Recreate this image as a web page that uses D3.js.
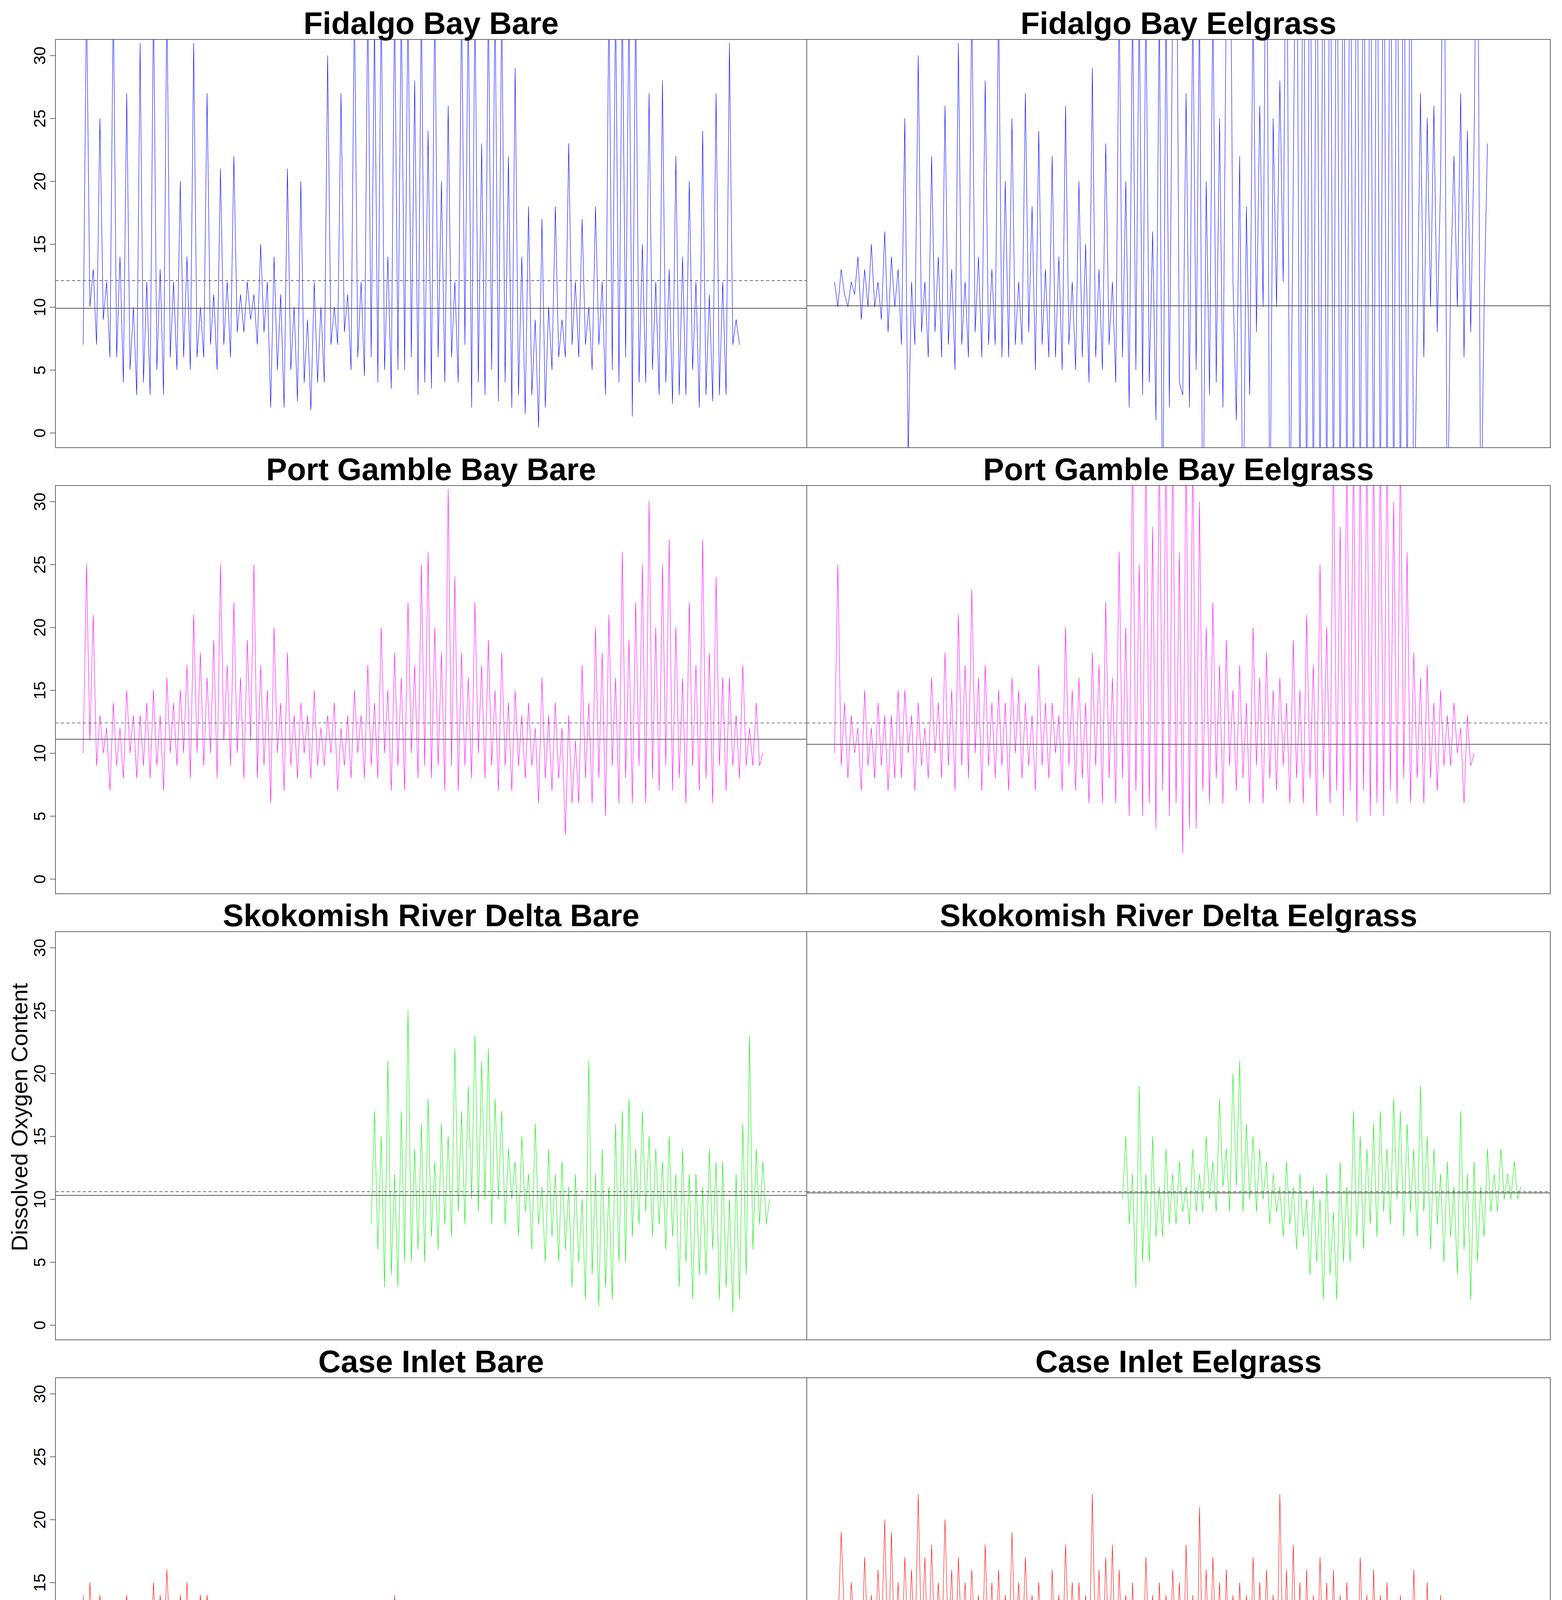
<!DOCTYPE html>
<html><head><meta charset="utf-8">
<script src="https://cdn.jsdelivr.net/npm/d3@7"></script>
<style>html,body{margin:0;padding:0;background:#fff}svg{display:block}</style></head>
<body><svg id="c" width="4000" height="6000"></svg>
<script>
// Dissolved oxygen, 4 samples per day (6 h apart), starting at startDay (days after 6/1/16)
const titles = ["Fidalgo Bay Bare","Fidalgo Bay Eelgrass","Port Gamble Bay Bare","Port Gamble Bay Eelgrass",
  "Skokomish River Delta Bare","Skokomish River Delta Eelgrass","Case Inlet Bare","Case Inlet Eelgrass",
  "Willapa Bay Bare","Willapa Bay Eelgrass"];
const colors = ["#0000ff","#0000ff","#ff00ff","#ff00ff","#00ee00","#00ee00","#ff0000","#ff0000","#a0a0a0","#a0a0a0"];
const startDays = [0,0,0,0,21.5,21.5,0,0,0,0];
const meanLines = [9.9,10.1,11.1,10.7,10.3,10.5,9.2,10.7,8.95,8.85];
const dashLines = [12.1,10.1,12.4,12.4,10.6,10.6,9.3,11.1,10.2,9.5];
const tickDays = [0,5,10,15,20,25,30,35,40,45,50];
const tickLabels = ["6/1/16","6/6/16","6/11/16","6/16/16","6/21/16","6/26/16","7/1/16","7/6/16","7/11/16","7/16/16","7/21/16"];
const yTicks = [0,5,10,15,20,25,30];

const fidalgoBare = [7,35,10,13, 7,25,9,12, 6,35,6,14, 4,27,5,10, 3,31,4,12, 3,35,5,13, 3,35,6,12, 5,20,6,14, 5,31,6,10, 6,27,7,11,
 5,21,7,12, 6,22,8,11, 8,12,9,11, 7,15,8,12, 2,14,5,11, 2,21,5,10, 2.5,20,4,9, 1.8,12,4,10, 4,30,7,10, 7,27,8,11,
 5,35,6,12, 4.5,35,6,33, 4,35,5,14, 3.5,35,5,35, 5,35,6,28, 3,35,4,24, 3.5,35,6,20, 4,26,6,12, 4,35,7,35, 2,35,4,23,
 3,35,5,35, 2.5,35,4,22, 2,29,3,14, 1.5,18,3,9, 0.4,17,2,10, 5,18,6,9, 6,23,7,12, 6,17,7,10, 5,18,7,12, 3,35,5,35,
 4,35,6,35, 1.3,35,4,15, 4,27,5,12, 3,28,4,13, 2.3,22,3,14, 3,20,5,12, 2,24,3,11, 2.5,27,3,12, 3,31,7,9, 7];
const fidalgoEel = [12,10,13,11, 10,12,11,14, 9,13,10,15, 10,12,9,16, 8,14,10,13, 7,25,-2,12, 7,30,8,12, 6,22,8,14, 6,26,7,13, 5,31,7,12,
 6,35,8,14, 6,28,7,13, 7,35,6,20, 6,25,7,12, 7,27,8,18, 5,24,7,13, 6,22,6,14, 5,26,7,12, 5,20,6,15, 4,29,6,13,
 5,23,7,12, 4,35,6,20, 2,35,5,35, 3,35,4,16, 1,35,-10,35, 2,35,50,4, 3,27,2,35, 5,35,-10,20, 3,35,4,25, 2,35,50,12,
 1,22,-10,18, 3,35,8,26, 10,50,-10,25, 10,28,12,50, -10,20,50,-10, 50,-10,50,-10, 50,-10,50,-10, 50,-10,50,-10, 50,-10,50,-10, 50,-10,50,-10,
 50,-10,50,-10, 50,-10,50,-10, 50,-10,50,-10, 50,-10,8,27, 6,25,10,26, 8,20,50,-10, 12,22,10,27, 6,24,8,23, 50,-10,10,23];
const gambleBare = [10,25,11,21, 9,13,10,12, 7,14,9,12, 8,15,10,13, 8,13,9,14, 8,15,9,13, 7,16,10,14, 9,15,10,17, 8,21,10,18, 9,16,10,19,
 8,25,11,17, 9,22,10,16, 8,19,11,25, 8,17,9,15, 6,20,10,14, 7,18,9,13, 8,14,10,13, 8,15,9,12, 9,13,10,14, 7,12,9,13,
 8,15,10,13, 8,17,9,14, 8,20,10,15, 7,18,9,16, 7,22,10,17, 8,25,9,26, 8,20,9,18, 7,31,9,24, 7,18,9,16, 8,22,10,17,
 8,19,9,15, 7,18,9,14, 7,15,9,13, 8,14,9,12, 6,16,8,13, 7,14,8,12, 3.5,13,6,11, 6,17,8,14, 6,20,8,18, 5,21,9,16,
 6,26,8,19, 6,22,9,25, 6,30,8,20, 7,25,9,27, 7,20,8,16, 6,22,9,17, 7,27,8,18, 6,24,9,16, 7,16,9,13, 8,17,9,12, 9,14,9,10];
const gambleEel = [10,25,9,14, 8,13,10,12, 7,15,9,12, 8,14,9,13, 7,13,8,15, 8,15,10,13, 7,14,9,12, 8,16,10,14, 8,18,9,15, 7,21,9,17,
 8,23,10,16, 7,17,9,14, 8,15,9,14, 7,16,10,15, 8,14,9,13, 7,17,9,14, 8,14,10,13, 7,20,9,15, 7,16,8,14, 6,18,9,17,
 6,22,8,16, 6,26,8,20, 5,35,7,25, 5,35,6,28, 4,35,7,35, 5,35,6,26, 2,35,4,35, 4,30,7,20, 6,22,8,17, 6,19,9,15,
 7,17,8,14, 6,20,9,16, 6,18,8,15, 7,16,9,14, 6,19,8,15, 6,21,8,17, 5,25,8,20, 6,35,7,28, 5,35,7,35, 4.5,35,7,35,
 5,35,6,35, 5,35,7,30, 6,35,8,26, 6,18,8,16, 6,17,8,14, 7,15,9,13, 9,14,10,12, 6,13,9,10];
const skokBare = [8,17,6,15, 3,21,4,12, 3,17,5,25, 5,14,6,16, 5,18,7,13, 6,16,8,15, 7,22,9,17, 8,19,10,23, 9,21,10,22, 8,18,10,17,
 8,14,10,13, 7,15,9,12, 6,16,8,11, 5,14,7,12, 5,13,6,11, 3,12,5,10, 2,21,4,12, 1.5,14,3,11, 2,16,5,17, 5,18,7,14,
 8,17,9,15, 7,14,8,13, 6,15,7,12, 3,14,5,12, 2,12,4,11, 4,14,6,13, 2,13,3,10, 1,12,2,16, 4,23,6,14, 8,13,8,10];
const skokEel = [10,15,8,12, 3,19,5,12, 5,15,7,11, 7,14,8,12, 8,13,9,11, 8,14,9,12, 9,15,10,13, 9,18,11,14, 9,20,11,21, 9,16,10,15,
 9,14,10,13, 8,12,9,11, 7,13,8,11, 6,12,7,10, 4,11,5,10, 2,12,4,9, 2,13,5,11, 5,17,7,15, 6,14,8,16, 7,17,9,14,
 8,18,10,17, 7,16,9,14, 7,19,9,15, 6,14,8,12, 5,13,7,11, 4,17,6,12, 2,13,5,11, 7,14,9,12, 9,14,10,12, 10,13,10,11];
const caseBare = [14,6,15,10, 9,14,10,13, 8,13,9,12, 9,14,9,13, 9,13,10,12, 8,15,9,14, 9,16,10,13, 8,14,9,15, 9,13,10,14, 9,14,10,12,
 8,13,9,12, 8,13,9,12, 8,12,9,11, 7,12,8,11, 8,11,9,12, 7,11,8,10, 6,11,8,12, 7,12,8,11, 7,11,8,12, 7,12,9,11,
 7,11,8,10, 6,12,8,11, 7,11,8,10, 6,14,8,12, 7,12,8,11, 7,11,8,10, 6,12,7,11, 6,11,7,10, 7,12,8,11, 6,10,7,11,
 6,11,7,10, 6,12,7,10, 5,11,6,10, 6,10,7,9, 5,11,6,10, 4,10,6,9, 5,11,6,12, 5,12,6,10, 4,11,5,10, 5,10,6,9,
 3,10,5,9, 4,11,6,10, 5,10,6,9, 4,11,5,9, 4,10,6,8, 5,9,6,8, 6,9,7,8, 7,9,8,9, 9];
const caseEel = [13,11,19,12, 10,15,11,13, 8,17,10,14, 9,16,10,20, 8,19,9,15, 8,17,10,16, 9,22,10,17, 8,18,10,15, 9,20,10,16, 8,17,10,15,
 9,16,10,14, 8,18,9,15, 7,16,9,14, 8,19,10,15, 9,17,10,14, 8,15,9,13, 7,16,9,14, 8,18,10,15, 7,15,9,14, 8,22,9,16,
 7,17,9,18, 7,16,9,14, 6,15,8,13, 7,17,9,14, 6,15,8,14, 7,16,9,15, 6,18,8,14, 2,21,8,16, 7,17,9,15, 6,16,8,14,
 7,15,9,14, 6,17,8,15, 7,16,9,14, 6,22,8,16, 6,18,8,15, 5,16,7,14, 6,17,8,15, 5,16,7,14, 6,15,8,13, 6,17,8,14,
 5,16,7,14, 6,15,8,13, 5,14,7,12, 6,16,8,13, 5,15,7,12, 4,14,6,12, 5,13,7,11, 6,11,8,10, 9,9];
const willapaBare = [9,6,25,10, 10,9,12,10, 6,24,10,11, 9,14,10,12, 6.5,11,9,10, 8,12,9,10, 7,20,9,14, 8,10,9,11, 7,21,9,12, 6,20,8,12,
 6,17,8,26, 5.5,12,8,14, 4.8,35,8,12, 3.2,31,8,23, 2.9,35,8,22, 4.3,35,9,26, 4.5,26,9,23, 2.9,35,8,15, 4.7,35,9,12, 6,30,8,26,
 5,35,8,15, 6,30,9,14, 6,14,8,12, 7,13,9,12, 7,15,9,11, 8,14,9,12, 7,12,9,11, 8,13,9,15, 7,16,9,12, 6,28,9,14,
 7,22,9,18, 6,21,9,12, 5,25,8,15, 6,18,8,12, 7,14,9,13, 6,15,9,12, 7,14,9,11, 6,13,8,12, 7,15,9,13, 5,35,9,17,
 5,20,8,31, 4.5,27,9,24, 4,35,8,20, 5,35,9,26, 5,31,8,15, 5,13,9,12, 6,12,8,14, 6,11,9,10, 5,12,8,10, 6,10,8,9,
 6,10,8,9, 6,9];
const willapaEel = [9,5,13,10, 9,11,8,13, 7,10,9,11, 8,10,9,9, 7,9,8,10, 7,9,8,9, 7,10,8,9, 7,9,8,10, 8,12,9,10, 7,11,8,10,
 7,13,9,11, 6,14,8,12, 6,15,9,11, 7,12,8,11, 6,11,8,10, 7,12,9,11, 7,10,8,11, 7,11,9,10, 7,12,8,11, 6,13,8,12,
 6,14,8,11, 6,16,8,13, 5,17,8,14, 6,15,8,12, 5,14,8,13, 6,16,8,17, 5,18,8,15, 6,13,8,12, 5,16,8,14, 5,22,7,16,
 5,19,8,15, 6,15,8,14, 6,14,8,12, 5,13,7,11, 5,12,7,10, 4,15,6,13, 5,28,7,20, 5,30,7,24, 6,18,8,14, 5,29,7,22,
 6,16,8,14, 5,18,7,15, 4,22,6,17, 4,26,7,18, 5,19,8,14, 3.5,18,6,13, 5,12,7,11, 6,14,8,12, 7,13,9,11, 6,15,8,13,
 7,12,8,10, 7];
const series = [fidalgoBare,fidalgoEel,gambleBare,gambleEel,skokBare,skokEel,caseBare,caseEel,willapaBare,willapaEel];

const svg = d3.select("#c");
const font = "Liberation Sans, Arial, sans-serif";
const colX = [142, 2066], colW = [1924, 1904];
const panelH = 1045;
series.forEach((vals, k) => {
  const col = k % 2, row = Math.floor(k / 2);
  const left = colX[col], w = colW[col];
  const bottom = 1146 + 1142 * row, top = bottom - panelH;
  const x = d3.scaleLinear().domain([-2.07, -2.07 + w / 34.3]).range([left, left + w]);
  const y = d3.scaleLinear().domain([-1.18, 31.27]).range([bottom, top]);
  const g = svg.append("g");
  const cid = "clip" + k;
  svg.append("clipPath").attr("id", cid).append("rect").attr("x", left).attr("y", top).attr("width", w).attr("height", panelH);
  const pts = vals.map((v, i) => [startDays[k] + i * 0.25, v]);
  g.append("path").datum(pts).attr("clip-path", `url(#${cid})`)
    .attr("d", d3.line().x(d => x(d[0])).y(d => y(d[1])))
    .attr("fill", "none").attr("stroke", colors[k]).attr("stroke-width", 1.1);
  g.append("line").attr("x1", left).attr("x2", left + w).attr("y1", y(meanLines[k])).attr("y2", y(meanLines[k]))
    .attr("stroke", "#555").attr("stroke-width", 2);
  g.append("line").attr("x1", left).attr("x2", left + w).attr("y1", y(dashLines[k])).attr("y2", y(dashLines[k]))
    .attr("stroke", "#555").attr("stroke-width", 1.6).attr("stroke-dasharray", "8,6");
  g.append("rect").attr("x", left).attr("y", top).attr("width", w).attr("height", panelH)
    .attr("fill", "none").attr("stroke", "#666").attr("stroke-width", 2);
  g.append("text").attr("x", left + w / 2).attr("y", top - 14).attr("text-anchor", "middle")
    .attr("font-family", font).attr("font-weight", "bold").attr("font-size", 80).text(titles[k]);
  if (col === 0) {
    const ax = g.append("g").attr("transform", `translate(${left},0)`)
      .call(d3.axisLeft(y).tickValues(yTicks).tickSize(14).tickSizeOuter(0));
    ax.select(".domain").remove();
    ax.selectAll("line").attr("stroke", "#666").attr("stroke-width", 2);
    ax.selectAll("text").attr("font-family", font).attr("font-size", 42)
      .attr("transform", "rotate(-90)").attr("x", 0).attr("y", -26).attr("dy", null)
      .attr("text-anchor", "middle");
  }
  if (row === 4) {
    const ax = g.append("g").attr("transform", `translate(0,${bottom + 20})`)
      .call(d3.axisBottom(x).tickValues(tickDays).tickFormat((d, i) => tickLabels[i]).tickSize(14).tickSizeOuter(0));
    ax.select(".domain").attr("stroke", "#666").attr("stroke-width", 2);
    ax.selectAll("line").attr("stroke", "#666").attr("stroke-width", 2);
    ax.selectAll("text").attr("font-family", font).attr("font-size", 42).attr("text-anchor", "end")
      .attr("transform", "rotate(-90)").attr("x", -26).attr("y", 0).attr("dy", "0.35em");
  }
});
svg.append("text").attr("transform", "translate(70,2860) rotate(-90)").attr("text-anchor", "middle")
  .attr("font-family", font).attr("font-size", 58).text("Dissolved Oxygen Content");
svg.append("text").attr("x", 2066).attr("y", 5960).attr("text-anchor", "middle")
  .attr("font-family", font).attr("font-size", 58).text("Date");
</script></body></html>
